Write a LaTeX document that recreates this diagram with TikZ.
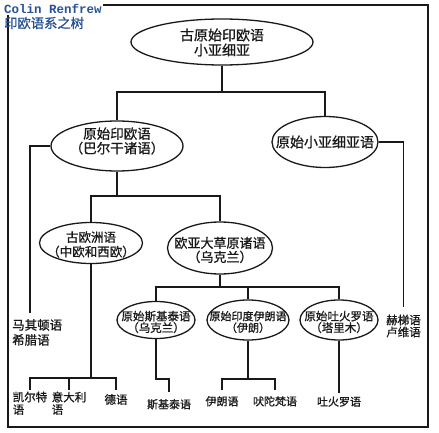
\documentclass[tikz,border=0pt]{standalone}
\usepackage{fontspec}
\setmonofont{Liberation Mono}
\newfontfamily\cjk[FakeBold=1]{Noto Sans CJK SC}
\usetikzlibrary{shapes.geometric}
\definecolor{ttl}{RGB}{40,82,150}
\definecolor{ink}{RGB}{25,25,25}
\tikzset{
  oval/.style={ellipse, draw=ink, line width=1.3pt, inner sep=0pt},
  otext/.style={inner sep=0pt, align=center, text=ink},
  leaf/.style={inner xsep=1pt, text=ink},
  conn/.style={draw=ink, line width=1.3pt},
}
\newcommand{\fs}[2]{\cjk\fontsize{#1}{#2}\selectfont}
\begin{document}
\begin{tikzpicture}[x=1pt,y=-1pt]
\useasboundingbox (0,0) rectangle (439,433);
\draw[conn] (8,5) rectangle (428,427);
\node[fill=white, text=ttl, anchor=west, inner sep=1pt,
      font=\ttfamily\bfseries\fontsize{12.5}{13}\selectfont] (au) at (3,9) {Colin Renfrew};
\node[text=ttl, anchor=west, inner sep=0pt, font=\fs{13.3}{14}] (tt) at (4,23) {印欧语系之树};

% ovals
\node[oval, minimum width=182, minimum height=46] (top) at (222,42) {};
\node[otext, font=\fs{14}{15}] (topt) at (222,42.5) {古原始印欧语\\小亚细亚};

\node[oval, minimum width=132, minimum height=50] (pie) at (117,146) {};
\node[otext, font=\fs{13.5}{14.5}] (piet) at (117,141) {原始印欧语\\（巴尔干诸语）};

\node[oval, minimum width=106, minimum height=51] (pia) at (325,142) {};
\node[otext, font=\fs{14}{15}] (piat) at (325,142) {原始小亚细亚语};

\node[oval, minimum width=103, minimum height=41] (oe) at (91,243) {};
\node[otext, font=\fs{12.5}{14.5}] (oet) at (91,244.5) {古欧洲语\\（中欧和西欧）};

\node[oval, minimum width=105, minimum height=52] (st) at (220,248) {};
\node[otext, font=\fs{13}{14}] (stt) at (220,250) {欧亚大草原诸语\\（乌克兰）};

\node[oval, minimum width=78, minimum height=37] (sc) at (156,320) {};
\node[otext, font=\fs{11.5}{11.5}] (sct) at (156,322) {原始斯基泰语\\（乌克兰）};

\node[oval, minimum width=82, minimum height=40] (ii) at (248,320) {};
\node[otext, font=\fs{11}{11.5}] (iit) at (248,322) {原始印度伊朗语\\（伊朗）};

\node[oval, minimum width=78, minimum height=40] (toc) at (339,320) {};
\node[otext, font=\fs{11.5}{11.5}] (toct) at (339,322) {原始吐火罗语\\（塔里木）};

% leaves
\node[leaf, align=left, anchor=north west, inner ysep=1pt, font=\fs{12.5}{15}] (gk) at (11,318) {马其顿语\\希腊语};
\node[leaf, align=left, anchor=north, inner ysep=1.5pt, font=\fs{11.5}{12.5}] (kel) at (30,390) {凯尔特\\语};
\node[leaf, align=left, anchor=north, inner ysep=1.5pt, font=\fs{11.5}{12.5}] (ita) at (69,390) {意大利\\语};
\node[leaf, anchor=north, inner ysep=4pt, font=\fs{11.5}{12.5}] (deu) at (116,390) {德语};
\node[leaf, anchor=north, inner ysep=7pt, font=\fs{11}{12}] (skt) at (169,392) {斯基泰语};
\node[leaf, anchor=north, inner ysep=6pt, font=\fs{11}{12}] (ir) at (222,390) {伊朗语};
\node[leaf, anchor=north, inner ysep=6pt, font=\fs{11}{12}] (ved) at (275,390) {吠陀梵语};
\node[leaf, anchor=north, inner ysep=3.5pt, font=\fs{11}{12}] (tch) at (339,393) {吐火罗语};
\node[leaf, align=center, anchor=north, inner ysep=7.5pt, font=\fs{11.5}{12}] (hit) at (403.5,307) {赫梯语\\卢维语};

% junctions
\coordinate (j1) at (222,92);
\coordinate (j2) at (117,196);
\coordinate (j3) at (91,378);
\coordinate (j4) at (220,287);
\coordinate (j5) at (248,379);
\coordinate (sk1) at (169,379);
\coordinate (gkend) at (30,313);

% connectors
\draw[conn] (top.south) -- (j1);
\draw[conn] (pie.north) |- (j1) -| (pia.north);
\draw[conn] (pie.west) -| (gkend);
\draw[conn] (pia.east) -| (hit.north);
\draw[conn] (pie.south) -- (j2);
\draw[conn] (oe.north) |- (j2) -| (st.north);
\draw[conn] (oe.south) -- (j3);
\draw[conn] (kel.north) |- (j3) -| (deu.north);
\draw[conn] (ita.north) -- (ita.north |- j3);
\draw[conn] (st.south) -- (j4);
\draw[conn] (sc.north) |- (j4) -| (toc.north);
\draw[conn] (ii.north) -- (ii.north |- j4);
\draw[conn] (sc.south) |- (sk1) -- (skt.north);
\draw[conn] (ii.south) -- (j5);
\draw[conn] (ir.north) |- (j5) -| (ved.north);
\draw[conn] (toc.south) -- (tch.north);
\end{tikzpicture}
\end{document}
